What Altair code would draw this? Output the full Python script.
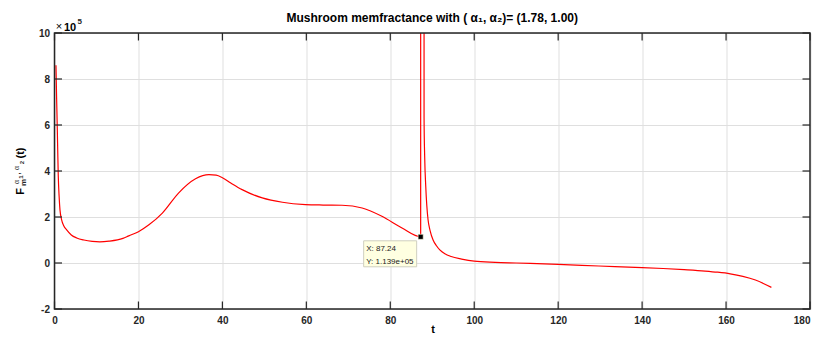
import altair as alt
import pandas as pd

# ---- data (F in units of 1e5) ----
t_vals = [0.35, 0.5, 0.67, 0.8, 0.9, 1.1, 1.3, 1.7, 2.2, 2.9, 4.0, 5.3, 7.0, 9.0, 10.8,
          13.0, 16.3, 17.7, 20.0, 22.5, 25.7, 29.6, 33.6, 36.8, 38.5, 40.0, 42.0, 44.7,
          49.5, 54.3, 59.8, 64.0, 68.5, 73.3, 78.0, 82.8, 87.24, 87.3, 88.0, 88.05, 88.2,
          88.45, 88.7, 89.0, 89.5, 90.2, 91.0, 91.8, 93.0, 94.5, 97.0, 100.0, 105.0,
          110.0, 120.0, 129.7, 140.0, 145.0, 150.0, 155.0, 158.0, 161.0, 164.0, 167.0,
          170.8]
f_vals = [8.6, 7.2, 5.8, 4.6, 3.78, 2.9, 2.32, 1.88, 1.62, 1.44, 1.22, 1.09, 1.0, 0.94, 0.92,
          0.95, 1.07, 1.18, 1.36, 1.66, 2.17, 3.05, 3.66, 3.84, 3.82, 3.71, 3.48, 3.19,
          2.83, 2.64, 2.54, 2.52, 2.51, 2.39, 2.03, 1.52, 1.139, 800.0, 800.0, 6.3, 4.6,
          3.34, 2.5, 1.88, 1.4, 1.0, 0.75, 0.57, 0.4, 0.28, 0.17, 0.08, 0.03,
          0.0, -0.06, -0.13, -0.2, -0.24, -0.29, -0.35, -0.40, -0.47, -0.58, -0.74,
          -1.06]
x_ticks = [0, 20, 40, 60, 80, 100, 120, 140, 160, 180]
y_ticks = [-2, 0, 2, 4, 6, 8, 10]
tip_t = 87.24
tip_f = 1.139
tip_lines = ["X: 87.24", "Y: 1.139e+05"]
title_text = "Mushroom memfractance with ( α₁, α₂)= (1.78, 1.00)"

W, H = 755.5, 276
FONT = "Liberation Sans"
AX = "#262626"
GRID = "#dfdfdf"
TL = 7.5

df = pd.DataFrame({"t": t_vals, "F": f_vals})
one = pd.DataFrame({"a": [0]})
xs = alt.Scale(domain=[0, 180], nice=False, zero=False)
ys = alt.Scale(domain=[-2, 10], nice=False, zero=False)

axis_common = dict(title=None, tickSize=0, domain=False, grid=True, gridColor=GRID,
                   gridWidth=1, labelFont=FONT, labelFontWeight="bold", labelFontSize=10,
                   labelColor=AX, labelExpr="'' + datum.value")
x_axis = alt.Axis(values=x_ticks, labelPadding=6,
                  labelAlign=alt.ExprRef(expr="datum.value == 180 ? 'right' : 'center'"),
                  **axis_common)
y_axis = alt.Axis(values=y_ticks, labelPadding=5, **axis_common)


def X(f):
    return alt.X(f, scale=xs, axis=x_axis)


def Y(f):
    return alt.Y(f, scale=ys, axis=y_axis)


line = alt.Chart(df).mark_line(color="#ff0000", strokeWidth=1.2, clip=True,
                               interpolate="monotone").encode(x=X("t:Q"), y=Y("F:Q"))

xt = pd.DataFrame({"t": x_ticks})
yt = pd.DataFrame({"F": y_ticks})
rule_kw = dict(color=AX, strokeWidth=1.2)
xb = alt.Chart(xt).mark_rule(**rule_kw).encode(x=X("t:Q"), y=alt.value(H), y2=alt.value(H - TL))
xtp = alt.Chart(xt).mark_rule(**rule_kw).encode(x=X("t:Q"), y=alt.value(0), y2=alt.value(TL))
yl = alt.Chart(yt).mark_rule(**rule_kw).encode(y=Y("F:Q"), x=alt.value(0), x2=alt.value(TL))
yr = alt.Chart(yt).mark_rule(**rule_kw).encode(y=Y("F:Q"), x=alt.value(W), x2=alt.value(W - TL))

frame = alt.Chart(one).mark_rect(fillOpacity=0, stroke=AX, strokeWidth=1.5).encode(
    x=alt.value(0), x2=alt.value(W), y=alt.value(0), y2=alt.value(H))

tipdf = pd.DataFrame({"t": [tip_t], "F": [tip_f]})
tipbox = alt.Chart(tipdf).mark_rect(
    fill="#ffffe1", stroke="#cfcfbf", strokeWidth=1,
    xOffset=-57, x2Offset=-4, yOffset=4, y2Offset=30).encode(
    x=X("t:Q"), x2="t:Q", y=Y("F:Q"), y2="F:Q")
tipmark = alt.Chart(tipdf).mark_square(size=26, color="black", opacity=1, stroke="#ffffe1",
                                       strokeWidth=0.6).encode(x=X("t:Q"), y=Y("F:Q"))
tiptexts = []
for i, s in enumerate(tip_lines):
    tiptexts.append(alt.Chart(tipdf).mark_text(
        font=FONT, fontSize=8, color="#1a1a1a", align="left", baseline="middle",
        dx=-54.5, dy=12 + 13 * i).encode(x=X("t:Q"), y=Y("F:Q"), text=alt.value(s)))


def txt(s, x, y, size=11, weight="bold", angle=0, align="center", baseline="middle"):
    kw = dict(font=FONT, fontSize=size, fontWeight=weight, color="black" if size >= 11 else AX,
              align=align, baseline=baseline)
    if angle:
        kw["angle"] = angle
    return alt.Chart(one).mark_text(**kw).encode(
        x=alt.value(x), y=alt.value(y), text=alt.value(s))


ox, oy = 54.5, 33
texts = [
    txt(title_text, W / 2, 18 - oy, size=12),
    txt("t", 433 - ox, 330 - oy, size=11),
    txt("×", 59 - ox, 27 - oy, size=11, weight="normal"),
    txt("10", 64 - ox, 27.5 - oy, size=11, align="left"),
    txt("5", 77.5 - ox, 22 - oy, size=8, align="left"),
    # y-axis label F_m^{α1,α2}(t), rotated
    txt("F", 20.5 - ox, 191.5 - oy, size=11, angle=270),
    txt("m", 23.5 - ox, 182.5 - oy, size=8, angle=270),
    txt("α", 16.5 - ox, 182 - oy, size=7, weight="normal", angle=270),
    txt("1", 21 - ox, 177 - oy, size=6, angle=270),
    txt(",", 17.5 - ox, 173.5 - oy, size=7, angle=270),
    txt("α", 16.5 - ox, 168 - oy, size=7, weight="normal", angle=270),
    txt("2", 22 - ox, 162.5 - oy, size=6, angle=270),
    txt("(t)", 21 - ox, 153 - oy, size=11, angle=270),
]

chart = alt.layer(line, tipbox, tipmark, *tiptexts, frame, xb, xtp, yl, yr, *texts).properties(
    width=W, height=H,
    autosize=alt.AutoSizeParams(type="none"),
    padding={"left": 46.5, "top": 25, "right": 2, "bottom": 26},
    background="white",
).configure_view(stroke=None)

chart.save("out.html", embed_options={"renderer": "svg", "actions": False})
